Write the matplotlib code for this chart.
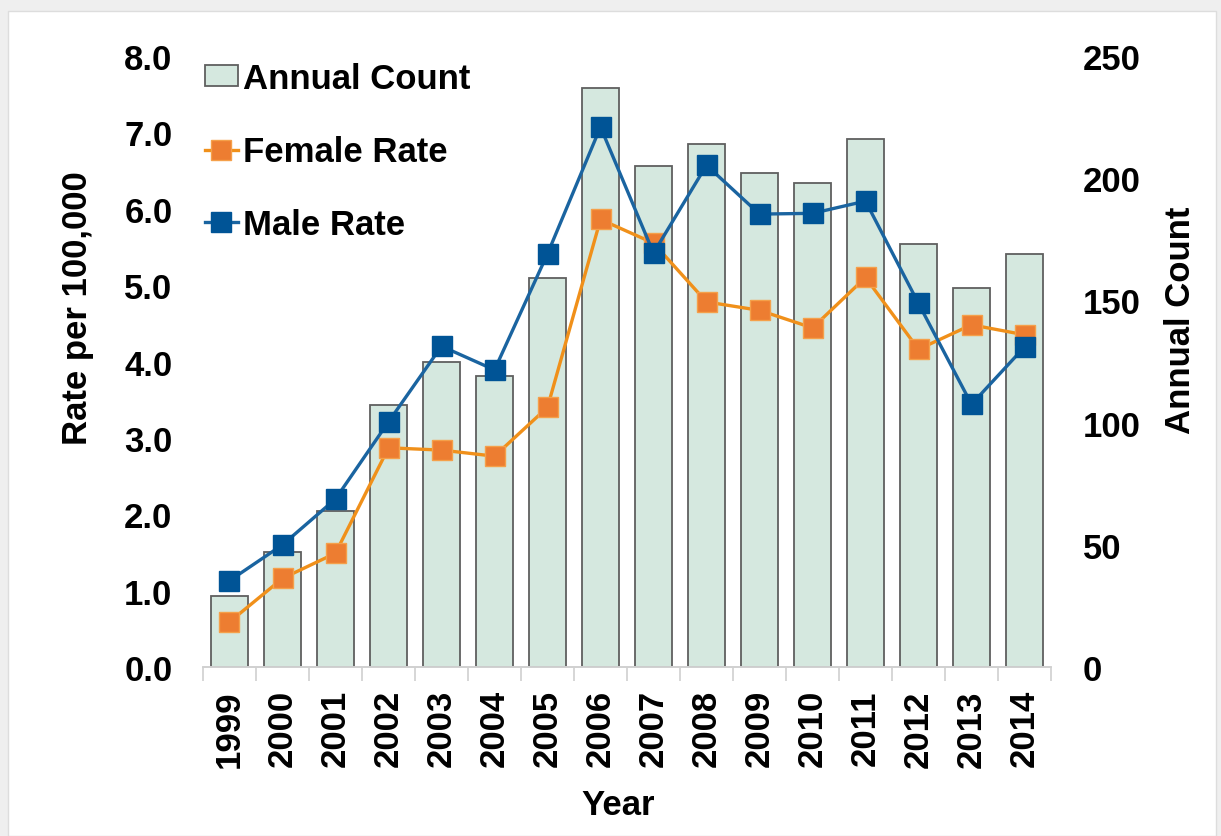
import matplotlib
matplotlib.use("Agg")
import matplotlib.pyplot as plt
from matplotlib.patches import Rectangle, Patch
from matplotlib.lines import Line2D
import numpy as np

years = ["1999", "2000", "2001", "2002", "2003", "2004", "2005", "2006",
         "2007", "2008", "2009", "2010", "2011", "2012", "2013", "2014"]
annual_count = [29, 47, 64, 107, 125, 119, 159, 237, 205, 214, 202, 198, 216, 173, 155, 169]
male_rate = [1.13, 1.60, 2.20, 3.21, 4.20, 3.89, 5.41, 7.07, 5.42, 6.57, 5.93, 5.94, 6.10, 4.76, 3.44, 4.19]
female_rate = [0.59, 1.16, 1.49, 2.87, 2.84, 2.76, 3.40, 5.86, 5.55, 4.78, 4.67, 4.44, 5.10, 4.16, 4.48, 4.35]

plt.rcParams['font.family'] = ['Liberation Sans', 'DejaVu Sans']
plt.rcParams['font.weight'] = 'bold'

W, H = 1221, 837
fig = plt.figure(figsize=(W / 100, H / 100), dpi=100, facecolor='#efefef')
fig.patches.append(Rectangle((8 / W, 0), (1216 - 8) / W, (H - 12) / H,
                             transform=fig.transFigure, facecolor='white',
                             edgecolor='#dddddd', lw=1, zorder=-10))

ax_left = 203 / W
ax_right = 1051 / W
ax_bottom = (H - 668) / H
ax_top = 1 - 57 / H
ax = fig.add_axes([ax_left, ax_bottom, ax_right - ax_left, ax_top - ax_bottom])
ax2 = ax.twinx()
ax2.set_zorder(1)
ax.set_zorder(2)
ax.patch.set_alpha(0)
ax2.patch.set_alpha(0)

x = np.arange(len(years))
bar_color = '#d5e8df'
bar_edge = '#5f5f5f'
orange_line = '#f0901a'
orange_mk = '#ed7d31'
blue_line = '#1a64a0'
blue_mk = '#005496'

ax2.bar(x, annual_count, width=0.68, color=bar_color, edgecolor=bar_edge, linewidth=1.3, zorder=1)
ax2.set_ylim(0, 250)
ax2.set_yticks([0, 50, 100, 150, 200, 250])
ax2.set_yticklabels(['0', '50', '100', '150', '200', '250'])

ax.plot(x, female_rate, color=orange_line, lw=2.4, marker='s', markersize=15,
        markerfacecolor=orange_mk, markeredgecolor='#f5a04a', markeredgewidth=1, zorder=3)
ax.plot(x, male_rate, color=blue_line, lw=2.4, marker='s', markersize=15,
        markerfacecolor=blue_mk, markeredgecolor=blue_mk, markeredgewidth=1, zorder=4)

ax.set_ylim(0, 8)
ax.set_yticks(np.arange(0, 8.01, 1.0))
ax.set_yticklabels([f"{v:.1f}" for v in np.arange(0, 8.01, 1.0)])
ax.set_xlim(-0.5, len(years) - 0.5)
ax.set_xticks(x)
ax.set_xticklabels(years, rotation=90)
ax.set_xticks(np.arange(-0.5, len(years), 1.0), minor=True)

fs = 25
ax.tick_params(axis='y', length=0, pad=22, labelsize=fs)
ax2.tick_params(axis='y', length=0, pad=23, labelsize=fs)
ax.tick_params(axis='x', which='major', length=0, pad=16, labelsize=fs)
ax.tick_params(axis='x', which='minor', length=10, color='#d0d0d0', width=1.2)

for a in (ax, ax2):
    for s in ['top', 'left', 'right']:
        a.spines[s].set_visible(False)
    a.spines['bottom'].set_color('#d0d0d0')
    a.spines['bottom'].set_linewidth(1.2)

fig.text(77 / W, 1 - 308 / H, "Rate per 100,000", rotation=90, ha='center', va='center',
         fontsize=fs, fontweight='bold')
fig.text(1180 / W, 1 - 320 / H, "Annual Count", rotation=90, ha='center', va='center',
         fontsize=fs, fontweight='bold')
fig.text(618 / W, 1 - 806 / H, "Year", ha='center', va='center',
         fontsize=fs, fontweight='bold')

handles = [
    Patch(facecolor=bar_color, edgecolor=bar_edge, linewidth=1.3),
    Line2D([0], [0], color=orange_line, lw=2.4, marker='s', markersize=15,
           markerfacecolor=orange_mk, markeredgecolor='#f5a04a'),
    Line2D([0], [0], color=blue_line, lw=2.4, marker='s', markersize=15,
           markerfacecolor=blue_mk, markeredgecolor=blue_mk),
]
leg = ax.legend(handles, ["Annual Count", "Female Rate", "Male Rate"],
                loc='upper left', bbox_to_anchor=(205 / W, 1 - 63 / H),
                bbox_transform=fig.transFigure, frameon=False,
                fontsize=fs, handlelength=0.95, handleheight=0.55, handletextpad=0.14,
                labelspacing=1.15, borderaxespad=0, borderpad=0)
for t in leg.get_texts():
    t.set_fontweight('bold')

fig.savefig("out.png", dpi=100, facecolor=fig.get_facecolor())
